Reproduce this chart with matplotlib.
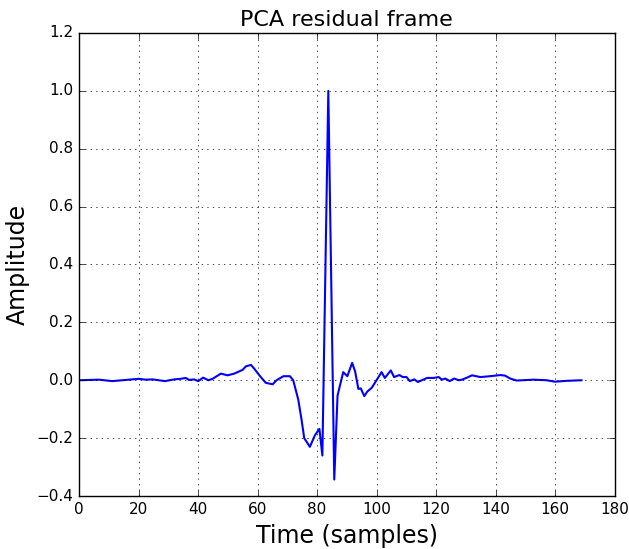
import matplotlib
matplotlib.use("Agg")
import matplotlib.pyplot as plt
import numpy as np

plt.style.use('classic')

# residual frame (sample index, amplitude)
t = [0, 6.7, 11.2, 16.8, 20, 22.4, 24.7, 28.9, 32, 34.2, 35.9, 37, 38.7, 40.1,
     41.7, 43.5, 44.9, 47.7, 49.9, 52.2, 55, 56.1, 57.8, 58.9, 61.1, 62.8, 65.1,
     66.4, 68.7, 70.9, 72.0, 73.7, 74.8, 75.7, 77.6, 79.3, 80.8, 81.8, 83.8,
     85.8, 86.9, 88.8, 90.2, 91.8, 92.8, 93.9, 94.7, 95.9, 96.9, 98.4, 100.0,
     101.7, 102.8, 104.8, 105.9, 107.7, 108.8, 110.1, 111.2, 112.7, 113.9,
     115.9, 117, 119.2, 120.9, 122, 123.1, 124.6, 126.1, 127.6, 128.7, 130.4,
     132.1, 134.9, 138.2, 141.6, 143.2, 144.9, 147.1, 152.7, 157.2, 160, 163.9,
     168.9]
amp = [0, 0.002, -0.003, 0.002, 0.005, 0.002, 0.003, -0.003, 0.003, 0.005,
       0.008, 0.001, 0.003, -0.003, 0.009, 0, 0.005, 0.023, 0.017, 0.023, 0.036,
       0.048, 0.053, 0.04, 0.011, -0.009, -0.014, 0, 0.014, 0.014, 0, -0.067,
       -0.136, -0.2, -0.23, -0.19, -0.168, -0.26, 1.0, -0.343, -0.053, 0.028,
       0.014, 0.06, 0.031, -0.03, -0.028, -0.055, -0.039, -0.026, 0, 0.028,
       0.008, 0.034, 0.011, 0.018, 0.011, 0.011, -0.003, 0.003, -0.006, 0.003,
       0.008, 0.008, 0.011, 0.002, 0.006, -0.003, 0.006, 0, 0.002, 0.009, 0.017,
       0.011, 0.014, 0.018, 0.016, 0.006, -0.001, 0.002, 0, -0.005, -0.002, 0]

fig = plt.figure(figsize=(6.29, 5.49), dpi=100, facecolor='white')
ax = fig.add_axes([0.1256, 0.0965, 0.8514, 0.8435])
ax.plot(t, amp, color='b', linewidth=1.5)
ax.set_xlim(0, 180)
ax.set_ylim(-0.4, 1.2)
ax.set_xticks(np.arange(0, 181, 20))
ax.set_yticks(np.arange(-0.4, 1.21, 0.2))
ax.grid(True)
ax.set_title('PCA residual frame', fontsize=16)
ax.set_xlabel('Time (samples)', fontsize=17)
ax.set_ylabel('Amplitude', fontsize=17)
ax.tick_params(labelsize=11)

fig.savefig('out.png', dpi=100, facecolor='white')
